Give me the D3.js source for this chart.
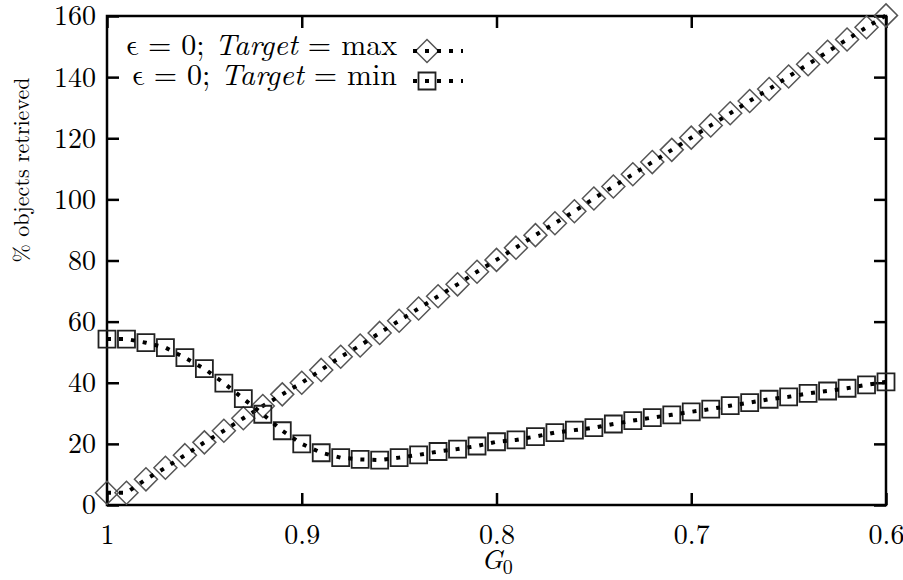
<!DOCTYPE html>
<html>
<head>
<meta charset="utf-8">
<script src="https://cdn.jsdelivr.net/npm/d3@7"></script>
<style>
  html, body { margin: 0; padding: 0; background: #fff; }
  svg text { fill: #000; }
  .axis path { display: none; }
  .axis line { stroke: #000; stroke-width: 2.5; }
</style>
</head>
<body>
<svg id="chart" width="903" height="580" font-family="'Latin Modern Roman', 'CMU Serif', serif"></svg>
<script>
"use strict";

/* G0 values, read left to right (axis runs 1 -> 0.6) */
const G0 = [1.00, 0.99, 0.98, 0.97, 0.96, 0.95, 0.94, 0.93, 0.92, 0.91, 0.90,
            0.89, 0.88, 0.87, 0.86, 0.85, 0.84, 0.83, 0.82, 0.81, 0.80,
            0.79, 0.78, 0.77, 0.76, 0.75, 0.74, 0.73, 0.72, 0.71, 0.70,
            0.69, 0.68, 0.67, 0.66, 0.65, 0.64, 0.63, 0.62, 0.61, 0.60];

/* eps = 0, Target = max (diamonds) */
const TARGET_MAX = [4.0, 4.0, 8.4, 12.2, 16.3, 20.5, 24.3, 28.4, 32.4, 36.2, 40.0,
                    44.2, 48.5, 52.2, 56.3, 60.3, 64.3, 68.3, 72.2, 76.3, 80.2,
                    84.2, 88.3, 92.2, 96.1, 100.3, 104.2, 108.2, 112.2, 116.2, 120.2,
                    124.2, 128.2, 132.2, 136.1, 140.2, 144.2, 148.3, 152.3, 156.3, 160.2];

/* eps = 0, Target = min (squares) */
const TARGET_MIN = [54.3, 54.3, 53.1, 51.5, 48.2, 44.6, 39.9, 34.8, 29.7, 24.3, 20.0,
                    17.1, 15.5, 14.9, 14.7, 15.5, 16.4, 17.5, 18.3, 19.3, 20.7,
                    21.3, 22.4, 23.7, 24.5, 25.3, 26.5, 27.6, 28.6, 29.5, 30.5,
                    31.4, 32.5, 33.5, 34.6, 35.4, 36.5, 37.3, 38.2, 39.3, 40.3];

const X_TICKS = [1, 0.9, 0.8, 0.7, 0.6];
const Y_TICKS = [0, 20, 40, 60, 80, 100, 120, 140, 160];

const svg = d3.select("#chart");
const M = { left: 107, right: 886, top: 16, bottom: 505 };
const TICK = 12;
const DASH = "4,8";
const TICK_FONT = 28;

const x = d3.scaleLinear().domain([1, 0.6]).range([M.left, M.right]);
const y = d3.scaleLinear().domain([0, 160]).range([M.bottom, M.top]);
const fmt = d3.format("~g");

/* -- axes: inward ticks on all four sides ------------------------------ */

svg.append("g").attr("class", "axis")
  .attr("transform", `translate(0,${M.bottom})`)
  .call(d3.axisBottom(x).tickValues(X_TICKS).tickFormat(fmt)
    .tickSizeInner(-TICK).tickSizeOuter(0).tickPadding(19))
  .call((g) => g.attr("font-family", null).attr("font-size", null))
  .selectAll("text").attr("font-size", TICK_FONT);

svg.append("g").attr("class", "axis")
  .attr("transform", `translate(0,${M.top})`)
  .call(d3.axisTop(x).tickValues(X_TICKS).tickFormat("")
    .tickSizeInner(-TICK).tickSizeOuter(0));

svg.append("g").attr("class", "axis")
  .attr("transform", `translate(${M.left},0)`)
  .call(d3.axisLeft(y).tickValues(Y_TICKS).tickFormat(fmt)
    .tickSizeInner(-TICK).tickSizeOuter(0).tickPadding(11))
  .call((g) => g.attr("font-family", null).attr("font-size", null))
  .selectAll("text").attr("font-size", TICK_FONT);

svg.append("g").attr("class", "axis")
  .attr("transform", `translate(${M.right},0)`)
  .call(d3.axisRight(y).tickValues(Y_TICKS).tickFormat("")
    .tickSizeInner(-TICK).tickSizeOuter(0));

svg.append("rect")
  .attr("x", M.left).attr("y", M.top)
  .attr("width", M.right - M.left).attr("height", M.bottom - M.top)
  .attr("fill", "none").attr("stroke", "#000").attr("stroke-width", 2.5);

/* -- axis titles ------------------------------------------------------- */

svg.append("text")
  .attr("transform", "translate(29,170) rotate(-90)")
  .attr("text-anchor", "middle")
  .attr("font-size", 22)
  .text("% objects retrieved");

const xl = svg.append("text")
  .attr("x", 497).attr("y", 569)
  .attr("text-anchor", "middle")
  .attr("font-size", 28);
xl.append("tspan").attr("font-style", "italic").text("G");
xl.append("tspan").attr("font-size", 20).attr("dy", 5).text("0");

/* -- series ------------------------------------------------------------ */

const diamond = (cx, cy, r) => `M${cx},${cy - r}L${cx + r},${cy}L${cx},${cy + r}L${cx - r},${cy}Z`;
const square = (cx, cy, h) => `M${cx - h},${cy - h}H${cx + h}V${cy + h}H${cx - h}Z`;

const series = [
  { label: "max", values: TARGET_MAX, shape: diamond, size: 11.5, stroke: "#555", sw: 1.5 },
  { label: "min", values: TARGET_MIN, shape: square, size: 8.5, stroke: "#222", sw: 1.8 }
];

const line = d3.line().x((d) => x(d[0])).y((d) => y(d[1]));

for (const s of series) {
  const pts = G0.map((g, i) => [g, s.values[i]]);
  const g = svg.append("g");
  g.selectAll("path.mark")
    .data(pts)
    .join("path")
    .attr("class", "mark")
    .attr("d", (d) => s.shape(x(d[0]), y(d[1]), s.size))
    .attr("fill", "none")
    .attr("stroke", s.stroke)
    .attr("stroke-width", s.sw);
  g.append("path")
    .attr("d", line(pts))
    .attr("fill", "none")
    .attr("stroke", "#000")
    .attr("stroke-width", 4)
    .attr("stroke-dasharray", DASH);
}

/* -- legend ------------------------------------------------------------ */

const LEG_X = 397;
series.forEach((s, i) => {
  const base = 55 + i * 30;
  const cy = base - 4;
  const t = svg.append("text")
    .attr("x", LEG_X).attr("y", base)
    .attr("text-anchor", "end")
    .attr("font-size", 30)
    .attr("xml:space", "preserve");
  t.append("tspan").attr("font-family", "'Latin Modern Math', 'Latin Modern Roman', serif").text("\u03F5");
  t.append("tspan").text(" = 0; ");
  t.append("tspan").attr("font-style", "italic").text("Target");
  t.append("tspan").text(" = " + s.label);

  svg.append("path")
    .attr("d", s.shape(427, cy, s.size))
    .attr("fill", "none")
    .attr("stroke", s.stroke)
    .attr("stroke-width", s.sw);
  svg.append("line")
    .attr("x1", 413).attr("x2", 463)
    .attr("y1", cy).attr("y2", cy)
    .attr("stroke", "#000")
    .attr("stroke-width", 4)
    .attr("stroke-dasharray", DASH);
});
</script>
</body>
</html>
